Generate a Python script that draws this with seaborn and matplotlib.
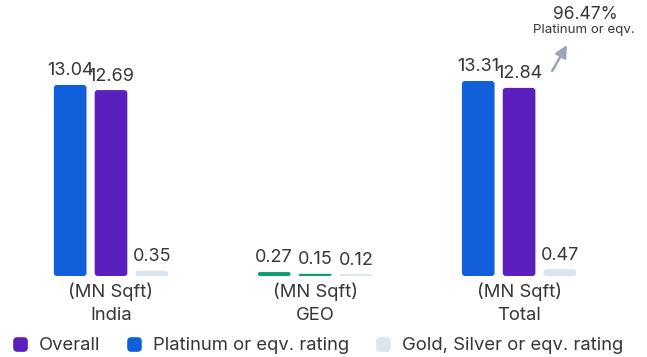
import numpy as np
import pandas as pd
import matplotlib
matplotlib.use("Agg")
import matplotlib.pyplot as plt
import seaborn as sns
from matplotlib.patches import FancyBboxPatch
from matplotlib.lines import Line2D
from matplotlib.path import Path

# Green building area by region (MN Sqft)
groups = ["India", "GEO", "Total"]
overall = [13.04, 0.27, 13.31]
platinum = [12.69, 0.15, 12.84]
gold_silver = [0.35, 0.12, 0.47]
unit_label = "(MN Sqft)"
legend_labels = ["Overall", "Platinum or eqv. rating", "Gold, Silver or eqv. rating"]
share_value = "96.47%"
share_caption = "Platinum or eqv."

BLUE = "#115FDA"
PURPLE = "#5B1FBE"
LIGHT = "#DCE5EF"
GREEN = "#0F9D6E"
TEXT = "#363636"
ARROW = "#9AA6B8"

df = pd.DataFrame({
    "group": groups * 3,
    "series": ["overall"] * 3 + ["platinum"] * 3 + ["gold"] * 3,
    "value": overall + platinum + gold_silver,
})

sns.set_theme(style="white")
plt.rcParams["font.family"] = ["Inter", "DejaVu Sans"]

W, H = 647, 357
fig = plt.figure(figsize=(W / 100, H / 100), dpi=100)
ax = fig.add_axes([0, 0, 1, 1])

sns.barplot(data=df, x="group", y="value", hue="series", order=groups,
            hue_order=["overall", "platinum", "gold"],
            palette=[BLUE, PURPLE, LIGHT], saturation=1,
            width=0.6, gap=0.2, legend=False, ax=ax)

ax.set_xlim(-0.544, 2.627)
ax.set_ylim(-5.53, 18.84)
ax.axis("off")

# value labels above each bar
for cont in ax.containers:
    ax.bar_label(cont, fmt="%.2f", padding=4, fontsize=13, color=TEXT)

# swap plain rectangles for rounded ones
xpp = (ax.get_xlim()[1] - ax.get_xlim()[0]) / W
ypp = (ax.get_ylim()[1] - ax.get_ylim()[0]) / H
for p in list(ax.patches):
    x, y, w, h = p.get_x(), p.get_y(), p.get_width(), p.get_height()
    color = p.get_facecolor()
    cx = x + w / 2
    g = int(round(cx))
    slot = int(round((cx - g) / 0.2)) + 1
    if g == 1 and slot in (0, 1):
        color = GREEN
    r_px = min(3.0, h / ypp / 2)
    fb = FancyBboxPatch((x, y), w, h,
                        boxstyle=f"round,pad=0,rounding_size={r_px * xpp}",
                        mutation_aspect=ypp / xpp, fc=color, ec="none")
    p.remove()
    ax.add_patch(fb)

# category labels under each group
for i, g in enumerate(groups):
    ax.text(i, -1.09, unit_label, ha="center", va="center", fontsize=13.3, color=TEXT)
    ax.text(i, -2.73, g, ha="center", va="center", fontsize=13.3, color=TEXT)

# platinum share callout
ax.annotate("", xy=(2.235, 15.77), xytext=(2.162, 13.99),
            arrowprops=dict(arrowstyle="-|>,head_length=0.6,head_width=0.3",
                            color=ARROW, lw=1.8, shrinkA=0, shrinkB=0))
ax.text(2.324, 17.82, share_value, ha="center", va="center", fontsize=12.5, color=TEXT)
ax.text(2.319, 16.79, share_caption, ha="center", va="center", fontsize=9.6, color=TEXT)

# rounded square legend markers
r = 0.25
verts = [(-0.5 + r, -0.5), (0.5 - r, -0.5), (0.5, -0.5), (0.5, -0.5 + r),
         (0.5, 0.5 - r), (0.5, 0.5), (0.5 - r, 0.5), (-0.5 + r, 0.5),
         (-0.5, 0.5), (-0.5, 0.5 - r), (-0.5, -0.5 + r), (-0.5, -0.5),
         (-0.5 + r, -0.5)]
codes = [Path.MOVETO, Path.LINETO, Path.CURVE3, Path.CURVE3, Path.LINETO,
         Path.CURVE3, Path.CURVE3, Path.LINETO, Path.CURVE3, Path.CURVE3,
         Path.LINETO, Path.CURVE3, Path.CURVE3]
rsq = Path(verts, codes)
handles = [Line2D([], [], ls="none", marker=rsq, markersize=9.5, color=c)
           for c in (PURPLE, BLUE, LIGHT)]
fig.legend(handles, legend_labels, loc="center", bbox_to_anchor=(0.492, 0.031),
           ncol=3, frameon=False, fontsize=13.3, handlelength=0.7,
           handletextpad=0.65, columnspacing=1.5, labelcolor=TEXT,
           borderpad=0, borderaxespad=0)

fig.savefig("out.png", dpi=100)
